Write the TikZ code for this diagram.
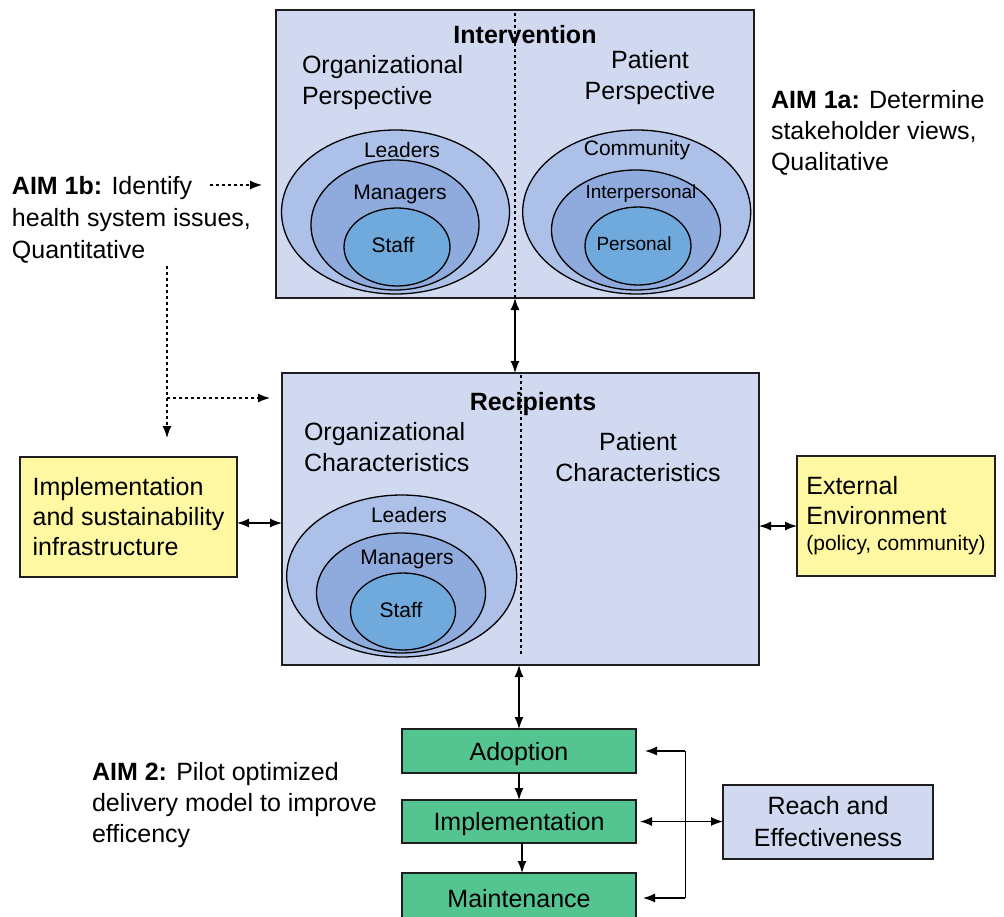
\documentclass[tikz,border=0pt]{standalone}
\usepackage{fontspec}
\setmainfont{Liberation Sans}
\usetikzlibrary{arrows.meta,shapes.geometric}
\definecolor{panel}{RGB}{209,217,240}
\definecolor{ringA}{RGB}{173,192,231}
\definecolor{ringB}{RGB}{143,170,220}
\definecolor{ringC}{RGB}{112,170,220}
\definecolor{note}{RGB}{255,248,162}
\definecolor{stage}{RGB}{84,196,144}
\definecolor{edge}{RGB}{30,30,30}
\begin{document}
\begin{tikzpicture}[x=1pt,y=-1pt,
  every node/.style={inner sep=0pt, outer sep=0pt},
  txt/.style={font=\fontsize{25}{31}\selectfont, align=left},
  ttl/.style={font=\fontsize{25}{31}\selectfont\bfseries},
  ring/.style={font=\fontsize{21}{25}\selectfont},
  ringsm/.style={font=\fontsize{19}{23}\selectfont},
  panelbox/.style={draw=edge, line width=1.8pt, fill=panel, rectangle},
  notebox/.style={draw=edge, line width=1.8pt, fill=note, rectangle,
    font=\fontsize{25}{30}\selectfont, align=left},
  stagebox/.style={draw=edge, line width=1.8pt, fill=stage, rectangle,
    minimum width=234pt, minimum height=44pt, text height=18pt, text depth=0pt,
    font=\fontsize{25}{31}\selectfont},
  oval/.style={ellipse, draw=black, line width=1.3pt},
  divider/.style={line width=1.5pt, dash pattern=on 3pt off 3pt},
  link/.style={line width=1.3pt, {Latex[length=12pt,width=9pt]}-{Latex[length=12pt,width=9pt]}},
  flow/.style={line width=1.3pt, -{Latex[length=12pt,width=9pt]}},
  hint/.style={line width=1.3pt, dash pattern=on 3pt off 3pt, -{Latex[length=12pt,width=9pt]}},
]
\useasboundingbox (0,0) rectangle (1004,916);
\clip (0,0) rectangle (1004,916);
\fill[white] (0,0) rectangle (1004,916);

% ---- Intervention panel ----
\node[panelbox, minimum width=478pt, minimum height=288pt] (interv) at (515,154) {};
\draw[divider] (515,13) -- (interv.south);
\node[ttl] (intervT) at (525,35) {Intervention};
\node[txt, anchor=west] (orgP) at (302,82.5) {Organizational\\Perspective};
\node[txt, align=center] (patP) at (650,78) {Patient\\Perspective};

\node[oval, fill=ringA, minimum width=228pt, minimum height=164pt] (iLo) at (395.5,212) {};
\node[oval, fill=ringB, minimum width=168pt, minimum height=130pt] (iLm) at (395,225) {};
\node[oval, fill=ringC, minimum width=106pt, minimum height=78pt] (iLi) at (397,247) {};
\node[ring] at (402,150) {Leaders};
\node[ring] at (400,194) {Managers};
\node[ring] at (393,245) {Staff};

\node[oval, fill=ringA, minimum width=228pt, minimum height=164pt] (iRo) at (636.7,212) {};
\node[oval, fill=ringB, minimum width=169pt, minimum height=120pt] (iRm) at (636,230) {};
\node[oval, fill=ringC, minimum width=106pt, minimum height=78pt] (iRi) at (638,246) {};
\node[ring] at (637,150) {Community};
\node[ringsm] at (641,194) {Interpersonal};
\node[ringsm] at (634,244) {Personal};

% ---- Recipients panel ----
\node[panelbox, minimum width=477pt, minimum height=292pt] (recip) at (520.5,519) {};
\draw[divider] (521,375) -- (521,655);
\node[ttl] (recipT) at (533,404) {Recipients};
\node[txt, anchor=west] (orgC) at (304,447) {Organizational\\Characteristics};
\node[txt, align=center] (patC) at (638,457) {Patient\\Characteristics};

\node[oval, fill=ringA, minimum width=230pt, minimum height=162pt] (rLo) at (401.7,576) {};
\node[oval, fill=ringB, minimum width=169pt, minimum height=120pt] (rLm) at (401,593) {};
\node[oval, fill=ringC, minimum width=105pt, minimum height=77pt] (rLi) at (403,611.5) {};
\node[ring] at (409,515) {Leaders};
\node[ring] at (407,559) {Managers};
\node[ring] at (401,610) {Staff};

% ---- side boxes ----
\node[notebox, minimum width=217pt, minimum height=120pt] (infra) at (128.5,517)
  {Implementation\\and sustainability\\infrastructure};
\node[notebox, minimum width=198pt, minimum height=120pt] (extenv) at (896,516)
  {External\\Environment\\[-4pt]{\fontsize{21}{25}\selectfont (policy, community)}};

% ---- stages ----
\node[stagebox] (adopt) at (519,751) {Adoption};
\node[stagebox, minimum height=43pt] (impl) at (519,821.5) {Implementation};
\node[stagebox, minimum height=50pt] (maint) at (519,898) {Maintenance};
\node[panelbox, line width=1.5pt, minimum width=210pt, minimum height=74pt,
  font=\fontsize{25}{32}\selectfont, align=center] (reach) at (828,822) {Reach and\\Effectiveness};

% ---- aims ----
\node[txt, anchor=west] (aim1a) at (771,133)
  {\textbf{AIM 1a:} Determine\\stakeholder views,\\Qualitative};
\node[txt, anchor=west, font=\fontsize{25}{32}\selectfont] (aim1b) at (12,220)
  {\textbf{AIM 1b:} Identify\\health system issues,\\Quantitative};
\node[txt, anchor=west] (aim2) at (92,805)
  {\textbf{AIM 2:} Pilot optimized\\delivery model to improve\\efficency};

% ---- connectors ----
\draw[link] (interv.south) -- (interv.south |- recip.north);
\draw[link] ([yshift=-6pt]infra.east) -- ([yshift=-6pt]infra.east -| recip.west);
\draw[link] ([yshift=-7pt]recip.east) -- ([yshift=-7pt]recip.east -| extenv.west);
\draw[link] (adopt.north) -- (adopt.north |- recip.south);
\draw[flow] (adopt.south) -- (impl.north);
\draw[flow] ([xshift=3pt]impl.south) -- ([xshift=3pt]maint.north);

\coordinate (bt) at (685,751);
\coordinate (bb) at (685,898);
\draw[line width=1pt] (bt) -- (bb);
\draw[flow, shorten >=9pt] (bt) -- (bt -| adopt.east);
\draw[flow, shorten >=7pt] (bb) -- (bb -| maint.east);
\draw[link, shorten <=4pt] (impl.east) -- (impl.east -| reach.west);

% ---- dotted hints from AIM 1b ----
\coordinate (h1) at (210,185);
\coordinate (h2) at (167,266);
\coordinate (h3) at (167,398);
\draw[hint] (h1) -- ([xshift=-14pt]h1 -| interv.west);
\draw[hint] (h2) -- ([yshift=19pt]h2 |- infra.north);
\draw[hint] (h3) -- ([xshift=-12pt]h3 -| recip.west);
\end{tikzpicture}
\end{document}
